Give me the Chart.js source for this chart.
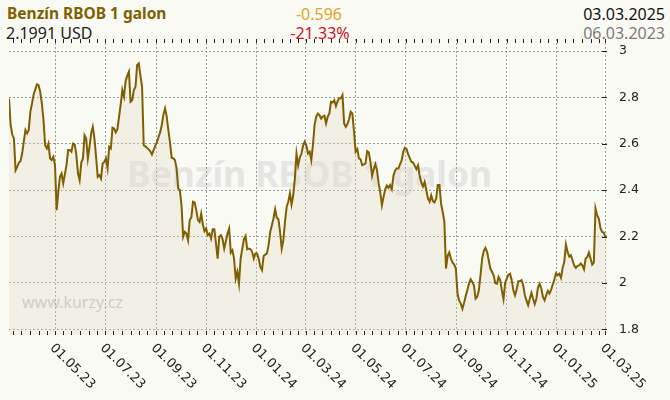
<!DOCTYPE html>
<html>
<head>
<meta charset="utf-8">
<script src="https://cdn.jsdelivr.net/npm/chart.js@4.4.1/dist/chart.umd.min.js"></script>
<style>
    html, body { margin: 0; padding: 0; background: #fafaf5; }
    #wrap { position: relative; width: 670px; height: 400px; overflow: hidden; font-family: "Noto Sans", sans-serif; }
    #wrap .txt { position: absolute; white-space: nowrap; line-height: 1; z-index: 0; }
    #chart { position: absolute; left: 0; top: 0; z-index: 1; }
    .hd { font-size: 16px; }
</style>
</head>
<body>
<div id="wrap">
    <div class="txt hd" style="left:7px; top:6px; font-weight:bold; font-size:15.5px; color:#806000;">Benzín RBOB 1 galon</div>
    <div class="txt hd" style="left:6px; top:25px; color:#222;">2.1991 USD</div>
    <div class="txt hd" style="left:319px; top:6px; transform:translateX(-50%); color:#e0a528;">-0.596</div>
    <div class="txt hd" style="left:320px; top:25px; transform:translateX(-50%); color:#c8141e;">-21.33%</div>
    <div class="txt hd" style="right:5px; top:6px; color:#111;">03.03.2025</div>
    <div class="txt hd" style="right:5px; top:25px; color:#7a7a7a;">06.03.2023</div>
    <div class="txt" style="left:127px; top:156px; font-weight:bold; font-size:35.5px; color:#e5e5e3;">Benzín RBOB 1 galon</div>
    <div class="txt" style="left:22px; top:294px; font-size:16px; color:#c6c6c6;">www.kurzy.cz</div>
    <canvas id="chart" width="670" height="400"></canvas>
</div>
<script>
// Benzín RBOB - price per gallon, one value every 2 days
const startDate = '06.03.2023';
const stepDays = 2;

const xTickLabels = ['01.05.23', '01.07.23', '01.09.23', '01.11.23', '01.01.24', '01.03.24',
    '01.05.24', '01.07.24', '01.09.24', '01.11.24', '01.01.25', '01.03.25'];
const minorTickDays = [1, 11, 21];
const yTicks = [1.8, 2, 2.2, 2.4, 2.6, 2.8, 3];

const prices = [
    2.795, 2.681, 2.640, 2.623, 2.486, 2.501, 2.519, 2.525, 2.558, 2.609,
    2.659, 2.645, 2.659, 2.738, 2.774, 2.813, 2.835, 2.856, 2.853, 2.824,
    2.774, 2.702, 2.594, 2.580, 2.601, 2.537, 2.530, 2.544, 2.508, 2.314,
    2.393, 2.458, 2.472, 2.429, 2.468, 2.508, 2.573, 2.573, 2.566, 2.601,
    2.597, 2.551, 2.472, 2.443, 2.519, 2.537, 2.637, 2.623, 2.537, 2.587,
    2.645, 2.673, 2.623, 2.544, 2.458, 2.465, 2.450, 2.515, 2.522, 2.537,
    2.494,
    2.587, 2.580, 2.669, 2.666, 2.649, 2.663, 2.717, 2.770, 2.832, 2.803,
    2.871, 2.894, 2.911, 2.781, 2.788, 2.832, 2.846, 2.940, 2.947, 2.894,
    2.846, 2.594, 2.589, 2.583, 2.576, 2.568, 2.554, 2.573, 2.591, 2.606,
    2.629, 2.649, 2.681, 2.727, 2.753, 2.717, 2.659, 2.606, 2.540, 2.537,
    2.530, 2.494, 2.407, 2.400, 2.335, 2.199, 2.220, 2.213, 2.184, 2.271,
    2.283, 2.350, 2.347, 2.314, 2.271, 2.263, 2.299, 2.252, 2.223, 2.235,
    2.206,
    2.213, 2.191, 2.232, 2.232, 2.170, 2.105, 2.199, 2.206, 2.189, 2.148,
    2.180, 2.213, 2.235, 2.131, 2.141, 2.105, 2.019, 2.048, 1.997, 2.105,
    2.148, 2.189, 2.203, 2.145, 2.148, 2.145, 2.134, 2.105, 2.127, 2.127,
    2.105, 2.069, 2.055, 2.117, 2.122, 2.127, 2.163, 2.220, 2.249, 2.278,
    2.318, 2.281, 2.275, 2.220, 2.148, 2.184, 2.263, 2.328, 2.350, 2.386,
    2.338, 2.378, 2.450, 2.557, 2.508, 2.540, 2.557, 2.591, 2.609, 2.594,
    2.558,
    2.566, 2.530, 2.594, 2.681, 2.717, 2.730, 2.724, 2.709, 2.718, 2.721,
    2.688, 2.717, 2.731, 2.781, 2.778, 2.788, 2.763, 2.784, 2.796, 2.796,
    2.810, 2.688, 2.673, 2.685, 2.706, 2.738, 2.731, 2.652, 2.566, 2.577,
    2.537, 2.534, 2.508, 2.511, 2.515, 2.568, 2.563, 2.522, 2.462, 2.491,
    2.512, 2.486, 2.429, 2.390, 2.335, 2.371, 2.404, 2.420, 2.410, 2.422,
    2.404, 2.462, 2.485, 2.494, 2.494, 2.511, 2.528, 2.566, 2.583, 2.577,
    2.554,
    2.537, 2.522, 2.519, 2.505, 2.491, 2.508, 2.460, 2.433, 2.416, 2.436,
    2.400, 2.364, 2.350, 2.378, 2.353, 2.347, 2.364, 2.422, 2.422, 2.342,
    2.306, 2.263, 2.062, 2.117, 2.132, 2.105, 2.088, 2.079, 2.062, 1.954,
    1.925, 1.911, 1.889, 1.915, 1.944, 1.970, 1.997, 2.016, 2.004, 1.990,
    1.932, 1.940, 1.968, 2.033, 2.105, 2.138, 2.151, 2.134, 2.098, 2.062,
    2.048, 2.033, 1.999, 1.997, 2.026, 2.012, 1.968, 1.930, 2.001, 2.019,
    2.036,
    2.040, 2.012, 1.968, 1.947, 1.973, 2.007, 2.007, 2.012, 1.990, 1.947,
    1.925, 1.904, 1.932, 1.958, 1.932, 1.909, 1.932, 1.981, 1.996, 1.976,
    1.940, 1.925, 1.947, 1.966, 1.954, 1.971, 1.993, 2.016, 2.042, 2.033,
    2.040, 2.022, 2.065, 2.091, 2.166, 2.134, 2.114, 2.120, 2.098, 2.076,
    2.065, 2.073, 2.076, 2.084, 2.076, 2.059, 2.105, 2.112, 2.131, 2.105,
    2.079, 2.088, 2.321, 2.292, 2.278, 2.237, 2.220, 2.217, 2.199, 2.1991
];

// dd.mm.yy or dd.mm.yyyy -> days since epoch
function toDay(s) {
    const p = s.split('.');
    let y = +p[2];
    if (y < 100) y += 2000;
    return Date.UTC(y, +p[1] - 1, +p[0]) / 864e5;
}

const startDay = toDay(startDate);
const endDay = startDay + (prices.length - 1) * stepDays;
const majorDays = xTickLabels.map(toDay);

// minor ticks on the 1st, 11th and 21st of every month
const tickDays = [];
const s = new Date(startDay * 864e5);
for (let y = s.getUTCFullYear(), m = s.getUTCMonth(); Date.UTC(y, m, 1) / 864e5 <= endDay; m++) {
    minorTickDays.forEach(d => {
        const day = Date.UTC(y, m, d) / 864e5;
        if (day >= startDay && day <= endDay) tickDays.push(day);
    });
}

const points = prices.map((v, i) => ({ x: startDay + i * stepDays, y: v }));

const decor = {
    id: 'decor',
    afterDraw(chart) {
        const { ctx, chartArea: a, scales: { x, y } } = chart;
        ctx.save();
        ctx.strokeStyle = '#222';
        ctx.lineWidth = 1;
        ctx.beginPath();
        tickDays.forEach(d => {
            const px = Math.round(x.getPixelForValue(d)) + 0.5;
            ctx.moveTo(px, a.bottom);
            ctx.lineTo(px, a.bottom - 4);
            ctx.moveTo(px, a.top);
            ctx.lineTo(px, a.top + 4);
        });
        yTicks.forEach(v => {
            const py = Math.round(y.getPixelForValue(v)) + 0.5;
            ctx.moveTo(a.right - 5, py);
            ctx.lineTo(a.right, py);
        });
        ctx.stroke();

        // rotated date labels
        ctx.fillStyle = '#222';
        ctx.font = '13px "DejaVu Sans"';
        ctx.textAlign = 'left';
        ctx.textBaseline = 'middle';
        xTickLabels.forEach((lbl, i) => {
            const px = x.getPixelForValue(majorDays[i]);
            ctx.save();
            ctx.translate(px - 3, a.bottom + 11);
            ctx.rotate(Math.PI / 4);
            ctx.fillText(lbl, 0, 0);
            ctx.restore();
        });
        ctx.restore();
    }
};

new Chart(document.getElementById('chart'), {
    type: 'line',
    data: {
        datasets: [{
            data: points,
            borderColor: '#7f5f00',
            borderWidth: 2,
            backgroundColor: 'rgba(225, 220, 200, 0.35)',
            fill: 'start',
            pointRadius: 0,
            tension: 0
        }]
    },
    options: {
        responsive: false,
        animation: false,
        layout: { padding: { left: 9, top: 39, right: 0, bottom: 0 } },
        plugins: {
            legend: { display: false },
            tooltip: { enabled: false }
        },
        scales: {
            x: {
                type: 'linear',
                min: startDay,
                max: endDay,
                afterBuildTicks: scale => {
                    scale.ticks = tickDays.map(d => ({ value: d, major: majorDays.includes(d) }));
                },
                afterFit: scale => { scale.height = 65; },
                ticks: { display: false, autoSkip: false },
                grid: {
                    drawTicks: false,
                    color: c => (c.tick && c.tick.major) ? '#9a9a9a' : 'rgba(0,0,0,0)'
                },
                border: { display: false, dash: [2, 2] }
            },
            y: {
                position: 'right',
                min: 1.7755,
                max: 3.052,
                afterBuildTicks: scale => {
                    scale.ticks = yTicks.map(v => ({ value: v }));
                },
                afterFit: scale => { scale.width = 63; },
                ticks: {
                    color: '#222',
                    padding: 12,
                    font: { family: 'DejaVu Sans', size: 12.5 },
                    callback: v => String(v)
                },
                grid: { drawTicks: false, color: '#9a9a9a' },
                border: { display: false, dash: [2, 2] }
            }
        }
    },
    plugins: [decor]
});
</script>
</body>
</html>
